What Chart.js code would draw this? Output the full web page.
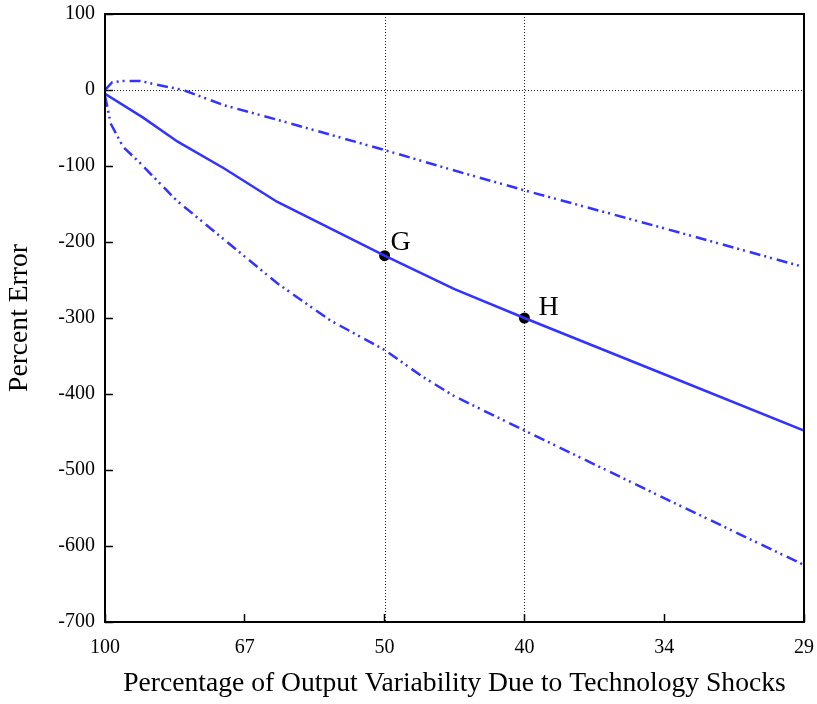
<!DOCTYPE html>
<html>
<head>
<meta charset="utf-8">
<script src="https://cdn.jsdelivr.net/npm/chart.js@4/dist/chart.umd.min.js"></script>
<style>
  html, body { margin: 0; padding: 0; background: #fff; }
  canvas { display: block; }
</style>
</head>
<body>
<canvas id="c" width="817" height="704"></canvas>
<script>
// ---- data (x positions are index positions along the axis 0..5) ----
const xTickLabels = ['100', '67', '50', '40', '34', '29'];

const xSolid = [0, 0.27, 0.52, 0.85, 1.23, 2, 2.5, 3, 4, 5];
const ySolid = [-5, -36, -68, -103, -147, -218, -262, -300, -374, -448];

const xUpper = [0, 0.05, 0.13, 0.25, 0.37, 0.56, 0.85, 1.23, 2, 2.5, 3, 4, 5];
const yUpper = [0, 10, 12, 12, 7, 0, -20, -39, -79, -106, -132, -182, -233];

const xLower = [0, 0.02, 0.04, 0.13, 0.25, 0.51, 1.23, 1.61, 2, 2.27, 2.5, 3, 4, 5];
const yLower = [-8, -25, -44, -75, -96, -145, -254, -303, -342, -377, -403, -448, -537, -625];

const markX = [2, 3];
const markY = [-218, -300];
const markLabels = ['G', 'H'];

const refX = [2, 3];
const refY = [0];

// ---- helpers ----
const toPts = (xs, ys) => xs.map((x, i) => ({ x: x, y: ys[i] }));
const BLUE = '#3333ff';
const SERIF = "'Liberation Serif', 'Times New Roman', Times, serif";

Chart.defaults.font.family = SERIF;
Chart.defaults.color = '#000';

const bgPlugin = {
  id: 'bg',
  beforeDraw(chart) {
    const ctx = chart.ctx;
    ctx.save();
    ctx.fillStyle = '#fff';
    ctx.fillRect(0, 0, chart.width, chart.height);
    ctx.restore();
  }
};

const refLinesPlugin = {
  id: 'refLines',
  beforeDatasetsDraw(chart) {
    const { ctx, chartArea: a, scales } = chart;
    ctx.save();
    ctx.strokeStyle = '#222';
    ctx.lineWidth = 1;
    ctx.setLineDash([1, 2]);
    refX.forEach(v => {
      const px = Math.round(scales.x.getPixelForValue(v)) + 0.5;
      ctx.beginPath(); ctx.moveTo(px, a.top); ctx.lineTo(px, a.bottom); ctx.stroke();
    });
    refY.forEach(v => {
      const py = Math.round(scales.y.getPixelForValue(v)) + 0.5;
      ctx.beginPath(); ctx.moveTo(a.left, py); ctx.lineTo(a.right, py); ctx.stroke();
    });
    ctx.restore();
  }
};

const framePlugin = {
  id: 'frame',
  afterDraw(chart) {
    const { ctx, chartArea: a } = chart;
    ctx.save();
    ctx.strokeStyle = '#000';
    ctx.lineWidth = 2;
    ctx.strokeRect(a.left, a.top, a.right - a.left, a.bottom - a.top);
    ctx.restore();
  }
};

const markLabelPlugin = {
  id: 'markLabels',
  afterDatasetsDraw(chart, args, opts) {
    const { ctx, scales } = chart;
    ctx.save();
    ctx.fillStyle = '#000';
    ctx.font = '28px ' + SERIF;
    ctx.textBaseline = 'alphabetic';
    ctx.textAlign = 'left';
    markLabels.forEach((t, i) => {
      const px = scales.x.getPixelForValue(markX[i]);
      const py = scales.y.getPixelForValue(markY[i]);
      const off = opts.offsets[i];
      ctx.fillText(t, px + off[0], py + off[1]);
    });
    ctx.restore();
  }
};

const noPad = (s) => { s.paddingTop = 0; s.paddingBottom = 0; s.paddingLeft = 0; s.paddingRight = 0; };

const dashDotDot = [11, 4, 2, 4, 2, 5];

new Chart(document.getElementById('c'), {
  type: 'line',
  data: {
    datasets: [
      {
        label: 'Point estimate',
        data: toPts(xSolid, ySolid),
        borderColor: BLUE, borderWidth: 2.5,
        pointRadius: 0, tension: 0, fill: false
      },
      {
        label: 'Upper bound',
        data: toPts(xUpper, yUpper),
        borderColor: BLUE, borderWidth: 2.5, borderDash: dashDotDot,
        pointRadius: 0, tension: 0, fill: false
      },
      {
        label: 'Lower bound',
        data: toPts(xLower, yLower),
        borderColor: BLUE, borderWidth: 2.5, borderDash: dashDotDot,
        pointRadius: 0, tension: 0, fill: false
      },
      {
        type: 'scatter',
        label: 'Marks',
        data: toPts(markX, markY),
        pointRadius: 5.5, pointBackgroundColor: '#000', pointBorderColor: '#000',
        borderWidth: 0, showLine: false
      }
    ]
  },
  options: {
    responsive: false,
    animation: false,
    devicePixelRatio: 1,
    layout: { padding: { top: 14, right: 13, left: 0, bottom: 0 } },
    plugins: {
      legend: { display: false },
      tooltip: { enabled: false },
      markLabels: { offsets: [[6, -6], [14, -3]] }
    },
    scales: {
      x: {
        type: 'linear',
        min: 0, max: 5,
        border: { display: false },
        grid: { drawOnChartArea: false, drawTicks: true, tickLength: -8, tickColor: '#000', tickWidth: 1.5 },
        ticks: {
          stepSize: 1, padding: 22, maxRotation: 0, autoSkip: false,
          font: { size: 20 },
          callback: (v) => (Number.isInteger(v) ? xTickLabels[v] : '')
        },
        title: {
          display: true,
          text: 'Percentage of Output Variability Due to Technology Shocks',
          font: { size: 27.6 },
          padding: { top: 0, bottom: 4 }
        },
        afterFit: (s) => { s.height = 82; noPad(s); }
      },
      y: {
        type: 'linear',
        min: -700, max: 100,
        border: { display: false },
        grid: { drawOnChartArea: false, drawTicks: true, tickLength: -8, tickColor: '#000', tickWidth: 1.5 },
        ticks: { stepSize: 100, padding: 18, font: { size: 20 } },
        title: {
          display: true,
          text: 'Percent Error',
          font: { size: 27.6 },
          padding: { top: 3, bottom: 0 }
        },
        afterFit: (s) => { s.width = 105; noPad(s); }
      }
    }
  },
  plugins: [bgPlugin, refLinesPlugin, markLabelPlugin, framePlugin]
});
</script>
</body>
</html>
